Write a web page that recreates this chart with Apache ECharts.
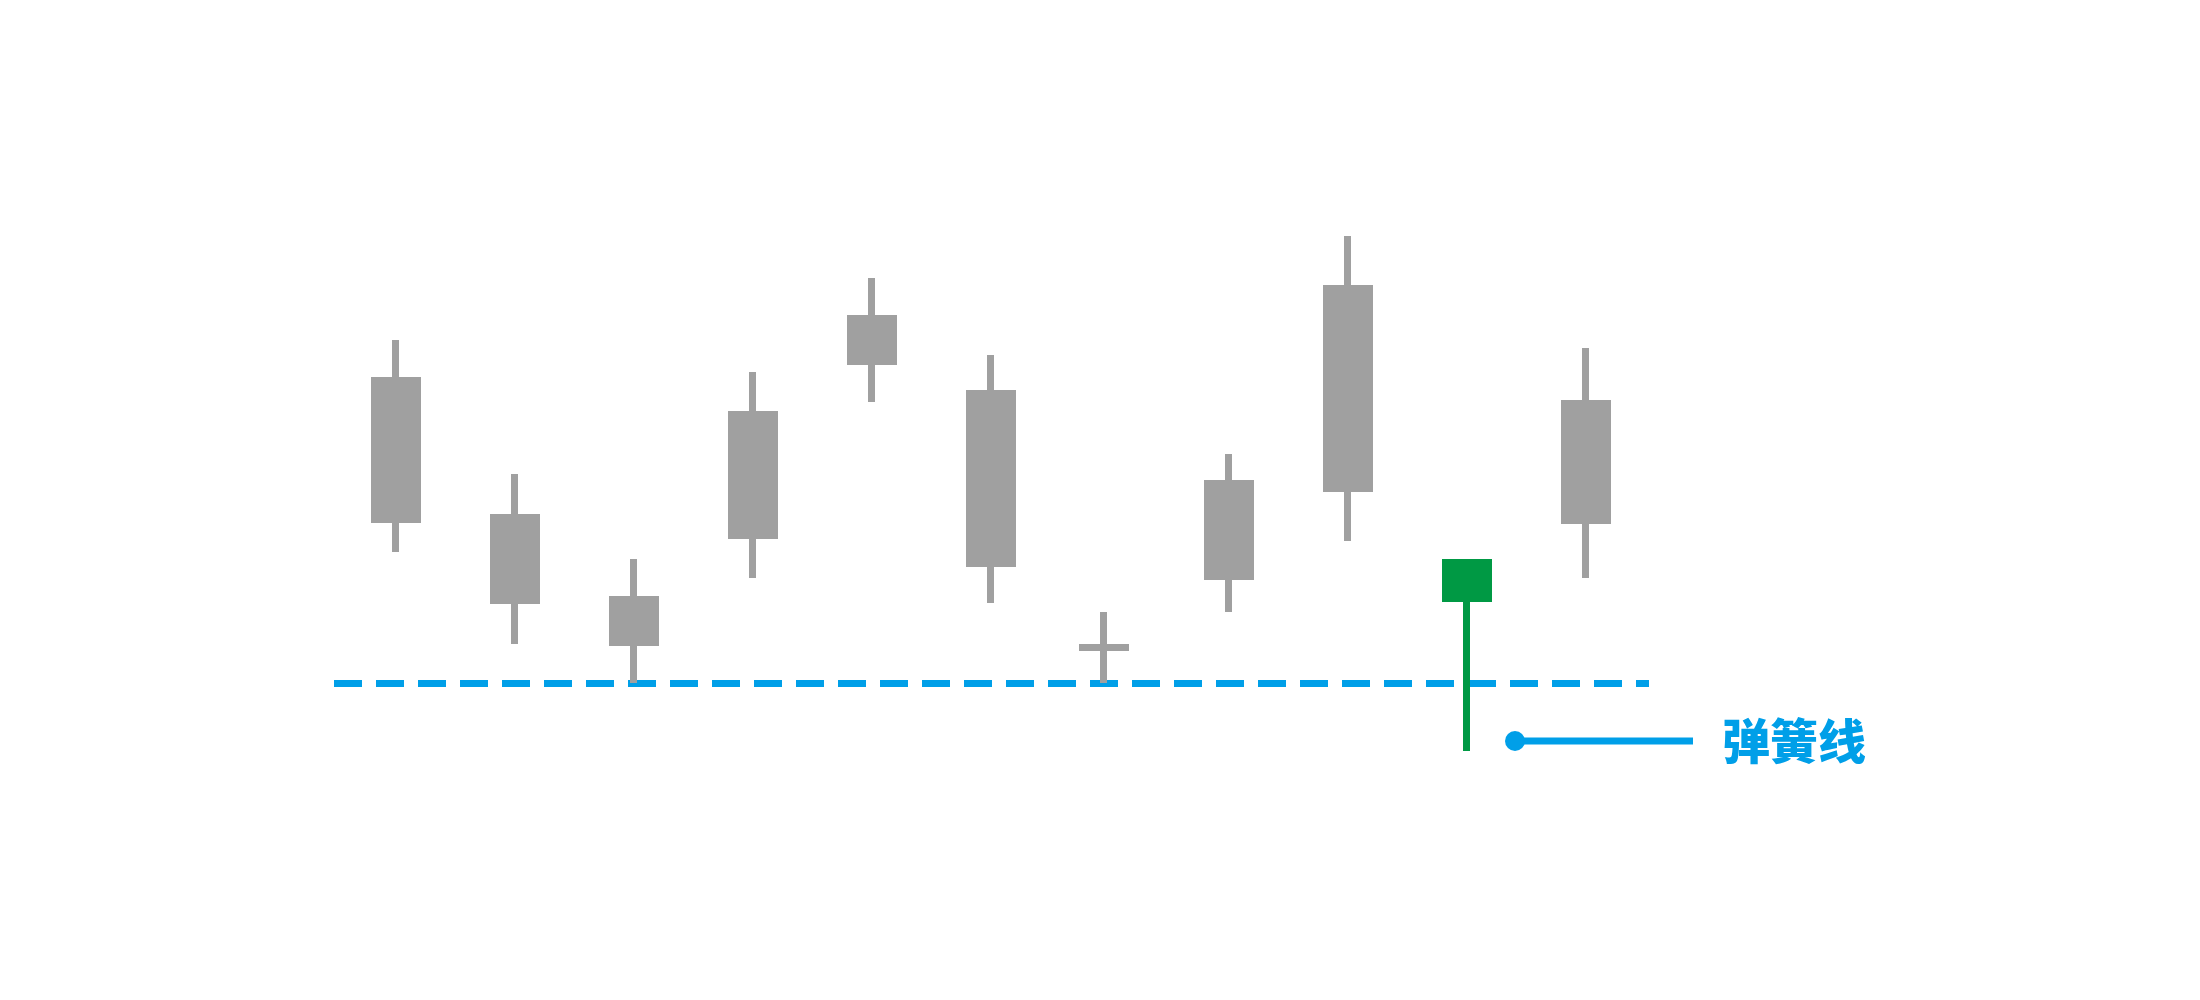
<!DOCTYPE html>
<html><head><meta charset="utf-8">
<script src="https://cdn.jsdelivr.net/npm/echarts@6/dist/echarts.min.js"></script>
<style>html,body{margin:0;padding:0;background:#fff}#main{width:2200px;height:1000px}</style>
</head><body><div id="main"></div>
<script>
const categories  = ['1', '2', '3', '4', '5', '6', '7', '8', '9', '10', '11'];
const positions   = [1, 2, 3, 4, 5, 6, 6.95, 8, 9, 10, 11];
const openValues  = [47.56, 47.81, 37.56, 45.56, 67.31, 63.31, 31.56, 40.44, 51.44, 42.19, 47.44];
const closeValues = [64.94, 37.44, 32.19, 60.69, 72.69, 42.06, 31.55, 52.06, 76.44, 37.69, 62.06];
const lowValues   = [43.50, 32.00, 27.13, 40.25, 62.25, 37.13, 27.13, 36.00, 44.88, 18.63, 40.25];
const highValues  = [70.00, 53.25, 42.63, 66.00, 77.75, 68.13, 36.00, 55.75, 83.00, 42.19, 69.00];
const springIndex = 9;
const supportLevel = 27.06;
const annotationText = '弹簧线';

const GRAY = '#a0a0a0', GREEN = '#009944', BLUE = '#009fe8';

const data = categories.map((c, i) => {
  const item = { name: c, value: [positions[i], openValues[i], closeValues[i], lowValues[i], highValues[i]] };
  if (i === springIndex) {
    item.itemStyle = { color: GREEN, color0: GREEN, borderColor: GREEN, borderColor0: GREEN, borderColorDoji: GREEN };
  }
  return item;
});

const chart = echarts.init(document.getElementById('main'), null, { renderer: 'canvas' });
chart.setOption({
  animation: false,
  backgroundColor: '#ffffff',
  grid: { left: 334, right: 551, top: 100, bottom: 100 },
  xAxis: { type: 'value', min: 1 - 62 / 119, max: 11 + 63 / 119, show: false, splitLine: { show: false } },
  yAxis: { type: 'value', min: 0, max: 100, show: false, splitLine: { show: false } },
  series: [{
    type: 'candlestick',
    z: 3,
    data: data,
    encode: { x: 0, y: [1, 2, 3, 4] },
    barWidth: 43,
    itemStyle: { color: GRAY, color0: GRAY, borderColor: GRAY, borderColor0: GRAY, borderColorDoji: GRAY, borderWidth: 7 },
    markLine: {
      z: 1,
      silent: true,
      animation: false,
      symbol: ['none', 'none'],
      label: { show: false },
      lineStyle: { color: BLUE, width: 7, type: [28, 14] },
      emphasis: { disabled: true },
      data: [{ yAxis: supportLevel }]
    }
  }]
});

const p = chart.convertToPixel({ xAxisIndex: 0, yAxisIndex: 0 }, [positions[springIndex], lowValues[springIndex]]);
const ax = p[0] + 48, ay = p[1] - 10;
chart.setOption({
  graphic: [
    { type: 'line', z: 10, shape: { x1: ax, y1: ay, x2: ax + 178, y2: ay }, style: { stroke: BLUE, lineWidth: 7 } },
    { type: 'circle', z: 10, shape: { cx: ax, cy: ay, r: 10 }, style: { fill: BLUE } },
    { type: 'text', z: 10, x: ax + 207, y: ay, style: { text: annotationText, fill: BLUE, fontSize: 48, fontWeight: 900, fontFamily: '"Noto Sans CJK SC", sans-serif', align: 'left', verticalAlign: 'middle' } }
  ]
});
</script>
</body></html>
